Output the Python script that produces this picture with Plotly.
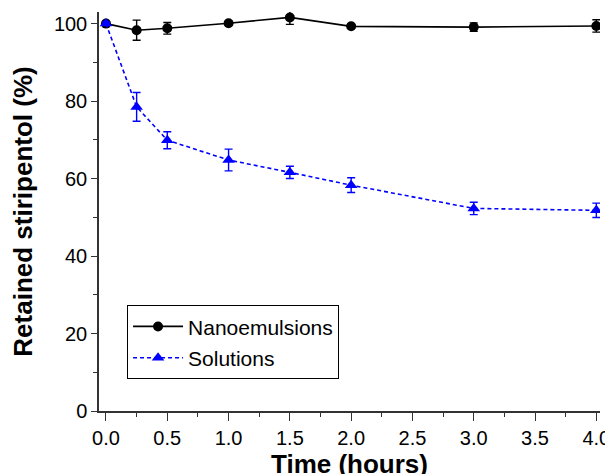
import plotly.graph_objects as go

time_h = [0, 0.25, 0.5, 1.0, 1.5, 2.0, 3.0, 4.0]
nano = [100, 98.3, 98.8, 100.1, 101.6, 99.3, 99.1, 99.4]
nano_err = [0.4, 2.6, 1.5, 0.5, 1.8, 0.5, 1.1, 1.6]
sol = [100, 78.5, 69.9, 64.8, 61.6, 58.3, 52.3, 51.8]
sol_err = [0.4, 3.7, 2.2, 2.8, 1.6, 1.9, 1.6, 1.85]

FONT = "Arial, Liberation Sans, sans-serif"

fig = go.Figure()
fig.add_trace(go.Scatter(
    x=time_h, y=nano, name="Nanoemulsions", mode="lines+markers",
    line=dict(color="black", width=1.6),
    marker=dict(symbol="circle", size=10, color="black"),
    error_y=dict(type="data", array=nano_err, color="black", thickness=1.4, width=4),
    legendgroup="a",
))
fig.add_trace(go.Scatter(
    x=time_h, y=sol, name="Solutions", mode="lines+markers",
    line=dict(color="#0000ff", width=1.6, dash="4px,3px"),
    marker=dict(symbol="triangle-up", size=11, color="#0000ff"),
    error_y=dict(type="data", array=sol_err, color="#0000ff", thickness=1.4, width=4),
    legendgroup="b",
))

fig.update_layout(
    width=613, height=474,
    margin=dict(l=91, r=21, t=4, b=71),
    paper_bgcolor="white", plot_bgcolor="white",
    font=dict(family=FONT, size=20, color="black"),
    showlegend=True,
    legend=dict(
        x=0.056, y=0.265, xanchor="left", yanchor="top",
        bordercolor="black", borderwidth=1, bgcolor="white",
        font=dict(size=21), tracegroupgap=1, traceorder="grouped",
        itemwidth=50,
    ),
    xaxis=dict(
        automargin=False,
        range=[-0.057, 4.03], tickvals=[0, 0.5, 1, 1.5, 2, 2.5, 3, 3.5, 4],
        ticktext=["0.0", "0.5", "1.0", "1.5", "2.0", "2.5", "3.0", "3.5", "4.0"],
        ticks="outside", ticklen=8, tickwidth=1.3, tickcolor="#333",
        minor=dict(dtick=0.25, tick0=0, ticks="outside", ticklen=4, tickwidth=1.3, tickcolor="#333"),
        showline=True, linecolor="#333", linewidth=1.5, showgrid=False, zeroline=False,
        title=dict(text="<b>Time (hours)</b>", font=dict(size=26), standoff=1),
        tickfont=dict(size=20),
    ),
    yaxis=dict(
        automargin=False,
        range=[0, 103], tickvals=[0, 20, 40, 60, 80, 100],
        ticks="outside", ticklen=6, tickwidth=1.3, tickcolor="#333",
        minor=dict(dtick=10, tick0=0, ticks="outside", ticklen=4, tickwidth=1.3, tickcolor="#333"),
        showline=True, linecolor="#333", linewidth=1.5, showgrid=False, zeroline=False,
        title=dict(text="<b>Retained stiripentol (%)</b>", font=dict(size=26), standoff=20),
        tickfont=dict(size=20),
    ),
)

fig.write_html("out.html")
